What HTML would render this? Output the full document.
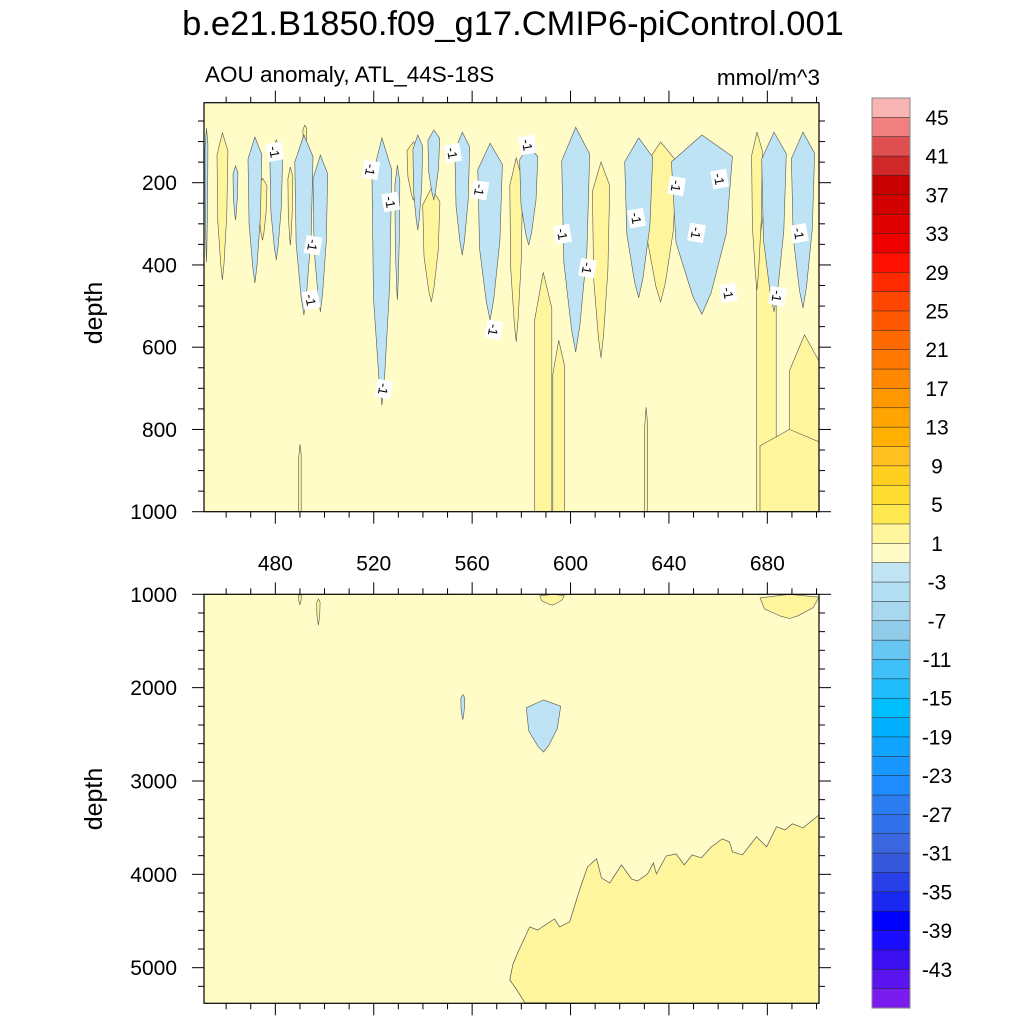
<!DOCTYPE html>
<html><head><meta charset="utf-8">
<style>
html,body{margin:0;padding:0;background:#fff;}
svg{display:block;font-family:"Liberation Sans",Arial,sans-serif;}
</style></head>
<body>
<svg id="fig" width="1024" height="1024" viewBox="0 0 1024 1024" xmlns="http://www.w3.org/2000/svg">
<text x="513" y="35" text-anchor="middle" font-size="34.5">b.e21.B1850.f09_g17.CMIP6-piControl.001</text>
<text x="205" y="82" font-size="22.5">AOU anomaly, ATL_44S-18S</text>
<text x="820" y="85" text-anchor="end" font-size="22.5">mmol/m^3</text>
<text transform="translate(102,313) rotate(-90)" text-anchor="middle" font-size="25">depth</text>
<text transform="translate(102,799) rotate(-90)" text-anchor="middle" font-size="25">depth</text>
<g id="top"></g>
<g id="bot"></g>
<g id="cbar"></g>
</svg>
<script>
// ---- data ----
var lonMin = 451, lonMax = 701;
var xTicks = [480, 520, 560, 600, 640, 680];
var topDepthTicks = [200, 400, 600, 800, 1000];
var botDepthTicks = [1000, 2000, 3000, 4000, 5000];
// blue (-1 .. -3) fingers in upper panel
var blueLon = [452.0,471.7,480.4,463.8,491.6,498.3,523.3,529.6,537.9,544.4,556.0,567.3,583.0,602.1,627.7,653.4,682.7,694.5];
var blueHalf = [0.6,2.8,2.6,1.0,3.7,3.0,4.0,1.0,2.0,2.4,3.0,5.0,3.7,5.7,5.7,12.4,5.0,4.7];
var blueTop = [67,89,96,159,84,133,91,157,84,72,77,104,108,65,91,84,77,77];
var blueBot = [393,444,388,291,522,514,741,485,315,242,376,534,352,612,480,520,514,505];
// yellow (1 .. 3) shallow fingers
var yelLon = [458.5,474.8,486.1,492.0,536.1,543.4,577.9,612.4,636.6,675.8];
var yelHalf = [2.2,1.8,1.0,0.8,2.6,3.5,2.6,3.5,6.5,2.2];
var yelTop = [79,189,162,60,101,213,140,150,101,77];
var yelBot = [437,340,352,133,242,490,587,626,490,461];
// yellow plumes reaching 1000 m
var deepLon = [588.9,595.2,630.7,679.6,695.1,490.0,689.0];
var deepHalf = [3.5,2.4,0.6,4.0,6.0,0.5,12.0];
var deepTop = [418,583,746,230,570,836,800];
// contour labels (-1)
var labLon = [479.8,518.8,526.9,495.3,494.5,524.1,552.1,563.1,582.6,568.8,596.8,606.9,626.8,643.1,660.6,651.2,664.2,684.1,693.0];
var labDepth = [125,169,247,352,485,702,128,218,108,558,325,408,286,208,191,322,468,476,323];
// lower panel: boundary of 1..3 region (deep water)
var bndLon = [581.4,578.1,575.3,576.5,578.5,583.4,586.6,593.5,595.6,599.6,603.7,606.9,610.6,612.6,615.9,620.7,624.8,627.2,631.3,633.7,634.9,638.9,642.9,646.2,649.4,653.2,657.2,661.7,664.6,665.8,669.9,675.6,679.7,683.7,687.2,690.2,694.5,701];
var bndDepth = [5375,5236,5132,4971,4843,4563,4596,4478,4563,4509,4167,3920,3834,4038,4092,3899,4049,4071,3996,3878,3996,3803,3781,3899,3792,3824,3706,3620,3652,3759,3792,3598,3706,3491,3523,3459,3502,3363];
// lower panel small blobs
var blobLon = [589,556.2,689,592.5,490,497.5];
var blobHalf = [7,0.8,12,5,0.6,0.7];
var blobTop = [2132,2075,1000,1000,1000,1050];
var blobBot = [2689,2343,1260,1115,1110,1330];
var blobKind = ['blue','blue','yellow','yellow','yellow','yellow'];
// colorbar
var cbColors = ['#f9b4b4','#f08080','#e05050','#d02828','#c80000','#d20000','#e00000','#ee0000','#ff1000','#ff2a00','#ff4600','#ff5800','#ff6a00','#ff7800','#ff8800','#ff9800','#ffa400','#ffb000','#ffc020','#ffd020','#ffdc30','#ffe850','#fff59d','#fffcc8','#c0e4f4','#b3dff2','#a8d8f0','#90cbea','#68c6f2','#40c0f8','#20bcfc','#00bfff','#00b0ff','#10a4ff','#1898ff','#1e8cff','#2a7cf0','#3070e8','#3a66e0','#3658dc','#2840e8','#1a28f0','#0000ff','#1a0cff','#3a10f0','#5a14f0','#7a1cee'];
var cbLabels = ['45','41','37','33','29','25','21','17','13','9','5','1','-3','-7','-11','-15','-19','-23','-27','-31','-35','-39','-43'];

// ---- layout ----
var NS='http://www.w3.org/2000/svg';
var PL=204, PR=819;
var T={top:102.7,bot:511.7,d0:5.5,d1:1000};
var B={top:594.3,bot:1003.3,d0:1000,d1:5381.5};
var BG='#fffcc8', YEL='#fff59d', BLU='#bde3f4';
function sx(l){return PL+(l-lonMin)/(lonMax-lonMin)*(PR-PL);}
function sy(P,d){return P.top+(d-P.d0)/(P.d1-P.d0)*(P.bot-P.top);}
function mk(tag,attrs,parent){var e=document.createElementNS(NS,tag);for(var k in attrs)e.setAttribute(k,attrs[k]);parent.appendChild(e);return e;}
function poly(pts,P){return pts.map(function(p){return sx(p[0]).toFixed(1)+','+sy(P,p[1]).toFixed(1);}).join(' ');}
function finger(l,h,t,b){var L=b-t;return [[l,t],[l-h,t+0.15*L],[l-h*0.85,t+0.6*L],[l-h*0.3,t+0.9*L],[l,b],[l+h*0.3,t+0.88*L],[l+h*0.8,t+0.55*L],[l+h,t+0.12*L]];}

var gt=document.getElementById('top'), gb=document.getElementById('bot');
var cp=mk('defs',{},gt);
var c1=mk('clipPath',{id:'clipT'},cp);mk('rect',{x:PL,y:T.top,width:PR-PL,height:T.bot-T.top},c1);
var c2=mk('clipPath',{id:'clipB'},cp);mk('rect',{x:PL,y:B.top,width:PR-PL,height:B.bot-B.top},c2);

// top panel
var bgT=mk('rect',{x:PL,y:T.top,width:PR-PL,height:T.bot-T.top,fill:BG},gt);


var ft=mk('g',{'clip-path':'url(#clipT)'},gt);
for(var i=0;i<deepLon.length;i++){
  var l=deepLon[i],h=deepHalf[i],t=deepTop[i];
  var p=mk('polygon',{points:poly([[l,t],[l-h,t+(1000-t)*0.2],[l-h,1010],[l+h,1010],[l+h,t+(1000-t)*0.15]],T),fill:YEL,stroke:'#555','stroke-width':0.6},ft);
  
  
}
for(var i=0;i<yelLon.length;i++){
  var p=mk('polygon',{points:poly(finger(yelLon[i],yelHalf[i],yelTop[i],yelBot[i]),T),fill:YEL,stroke:'#555','stroke-width':0.6},ft);
  
  
}
for(var i=0;i<blueLon.length;i++){
  var p=mk('polygon',{points:poly(finger(blueLon[i],blueHalf[i],blueTop[i],blueBot[i]),T),fill:BLU,stroke:'#555','stroke-width':0.6},ft);
  
  
}
for(var i=0;i<labLon.length;i++){
  var x=sx(labLon[i]),y=sy(T,labDepth[i]);
  var g=mk('g',{transform:'translate('+x.toFixed(1)+','+y.toFixed(1)+') rotate('+(i%2?100:80)+')'},ft);
  
  
  mk('rect',{x:-9,y:-8,width:18,height:16,fill:'#fff'},g);
  var tx=mk('text',{x:0,y:5,'text-anchor':'middle','font-size':13},g);tx.textContent='-1';
}

// bottom panel
var bgB=mk('rect',{x:PL,y:B.top,width:PR-PL,height:B.bot-B.top,fill:BG},gb);


var fb=mk('g',{'clip-path':'url(#clipB)'},gb);
var bpts=[];for(var i=0;i<bndLon.length;i++)bpts.push([bndLon[i],bndDepth[i]]);
bpts.push([lonMax+1,5400]);
var deep=mk('polygon',{points:poly(bpts,B),fill:YEL,stroke:'#555','stroke-width':0.7},fb);


for(var i=0;i<blobLon.length;i++){
  var p=mk('polygon',{points:poly(finger(blobLon[i],blobHalf[i],blobTop[i],blobBot[i]),B),fill:blobKind[i]=='blue'?BLU:YEL,stroke:'#555','stroke-width':0.6},fb);
  
  
}

// axes / ticks
function frame(g,P,ticks,minStep,labelsX){
  mk('rect',{x:PL,y:P.top,width:PR-PL,height:P.bot-P.top,fill:'none',stroke:'#000','stroke-width':1.2},g);
  var d;
  for(d=Math.ceil(P.d0/minStep)*minStep; d<=P.d1; d+=minStep){
    var y=sy(P,d), maj=ticks.indexOf(d)>=0, L=maj?12:6;
    mk('line',{x1:PL-L,x2:PL,y1:y,y2:y,stroke:'#000','stroke-width':1},g);
    mk('line',{x1:PR,x2:PR+L,y1:y,y2:y,stroke:'#000','stroke-width':1},g);
  }
  for(var i=0;i<ticks.length;i++){
    var t=mk('text',{x:177,y:sy(P,ticks[i])+7.5,'text-anchor':'end','font-size':21},g);
    t.textContent=ticks[i];
    
    
  }
  for(var l=460;l<=lonMax;l+=10){
    var x=sx(l), maj=xTicks.indexOf(l)>=0, L=maj?12:6;
    mk('line',{x1:x,x2:x,y1:P.top-L,y2:P.top,stroke:'#000','stroke-width':1},g);
    mk('line',{x1:x,x2:x,y1:P.bot,y2:P.bot+L,stroke:'#000','stroke-width':1},g);
  }
  if(labelsX){
    for(var i=0;i<xTicks.length;i++){
      var t=mk('text',{x:sx(xTicks[i]),y:P.bot+59,'text-anchor':'middle','font-size':21},g);
      t.textContent=xTicks[i];
      
      
    }
  }
}
frame(gt,T,topDepthTicks,50,true);
frame(gb,B,botDepthTicks,200,false);

// colorbar
var gc=document.getElementById('cbar');
var cx=872,cw=38,ct=98,ch=910/cbColors.length;
for(var i=0;i<cbColors.length;i++){
  var r=mk('rect',{x:cx,y:ct+i*ch,width:cw,height:ch+0.3,fill:cbColors[i],stroke:'#222','stroke-width':0.5},gc);
  
  
}
mk('rect',{x:cx,y:ct,width:cw,height:910,fill:'none',stroke:'#888','stroke-width':1},gc);
for(var i=0;i<cbLabels.length;i++){
  var t=mk('text',{x:937,y:ct+(1+2*i)*ch+7.5,'text-anchor':'middle','font-size':21},gc);
  t.textContent=cbLabels[i];
  
  
}
</script>
</body></html>
